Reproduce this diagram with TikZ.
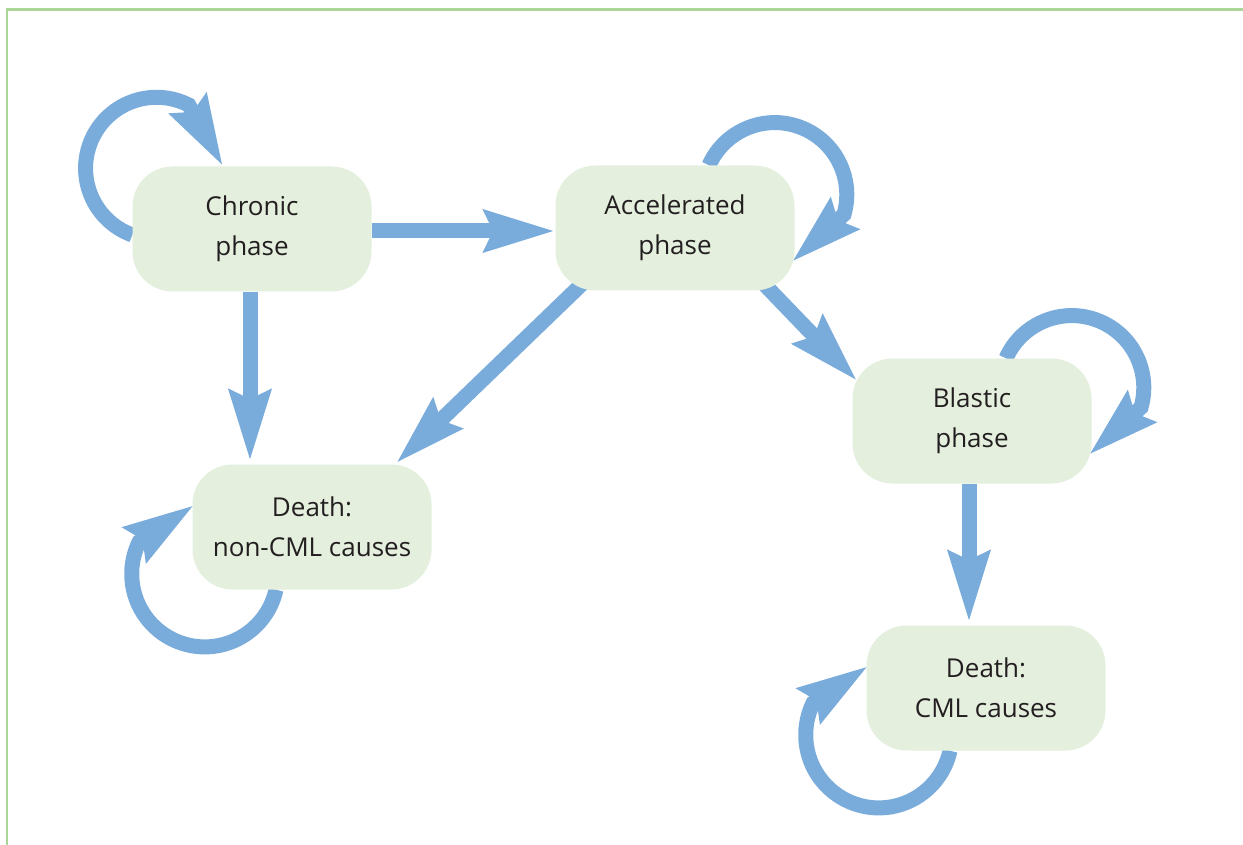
\documentclass[tikz,border=0pt]{standalone}
\usepackage{fontspec}
\setmainfont{Open Sans}
\usetikzlibrary{arrows.meta,calc}
\definecolor{arrowblue}{RGB}{122,172,219}
\definecolor{boxgreen}{RGB}{228,239,222}
\definecolor{framegreen}{RGB}{170,214,152}
\definecolor{textdark}{RGB}{35,31,32}
\pgfdeclarelayer{bg}
\pgfsetlayers{bg,main}
\begin{document}
\begin{tikzpicture}[x=1pt,y=-1pt,
  phasebox/.style={draw=none, fill=boxgreen, rounded corners=40pt,
    minimum width=239pt, minimum height=125pt, inner sep=0pt, align=center,
    font=\fontsize{26}{40}\selectfont, text=textdark},
  arr/.style={draw=arrowblue, line width=15pt, line cap=butt,
    -{Stealth[length=70pt,width=40pt,inset=8pt]}}]
\useasboundingbox (0,0) rectangle (1243,845);
\draw[framegreen, line width=2.5pt] (7,845) -- (7,9.5) -- (1243,9.5);

\node[phasebox] (chr) at (252,229) {Chronic\\phase};
\node[phasebox] (acc) at (675,228) {Accelerated\\phase};
\node[phasebox] (bla) at (972,421) {Blastic\\phase};
\node[phasebox] (dnc) at (312,527) {Death:\\non-CML causes};
\node[phasebox] (dcm) at (986,688) {Death:\\CML causes};

\begin{pgfonlayer}{bg}
% self loops
\draw[arr] ($(chr.west)+(0,6)$) arc[start angle=110,end angle=297,radius=71] -- ($(chr.north)+(-29,0)$);
\draw[arr] ($(acc.north)+(34,0)$) arc[start angle=204,end angle=376,radius=72] -- ($(acc.east)+(-3,34)$);
\draw[arr] ($(bla.north)+(34,0)$) arc[start angle=204,end angle=376,radius=72] -- ($(bla.east)+(-3,34)$);
\draw[arr] ($(dnc.south)+(-36,0)$) arc[start angle=12.5,end angle=206,radius=73] -- ($(dnc.west)+(2,-22)$);
\draw[arr] ($(dcm.south)+(-36,0)$) arc[start angle=12.5,end angle=206,radius=73] -- ($(dcm.west)+(2,-22)$);
% transitions
\draw[arr] ($(chr.east)+(0,2)$) -- ($(acc.west)+(0,3)$);
\draw[arr] ($(chr.south)+(-2,0)$) -- ($(dnc.north)+(-62,-3)$);
\draw[arr] ($(acc.south west)+(28,-8)$) -- ($(dnc.north)+(84,-1)$);
\draw[arr] ($(acc.south east)+(-31,-7)$) -- ($(bla.west)+(5,-40)$);
\draw[arr] ($(bla.south)+(-3,0)$) -- ($(dcm.north)+(-17,-3)$);
\end{pgfonlayer}
\end{tikzpicture}
\end{document}
